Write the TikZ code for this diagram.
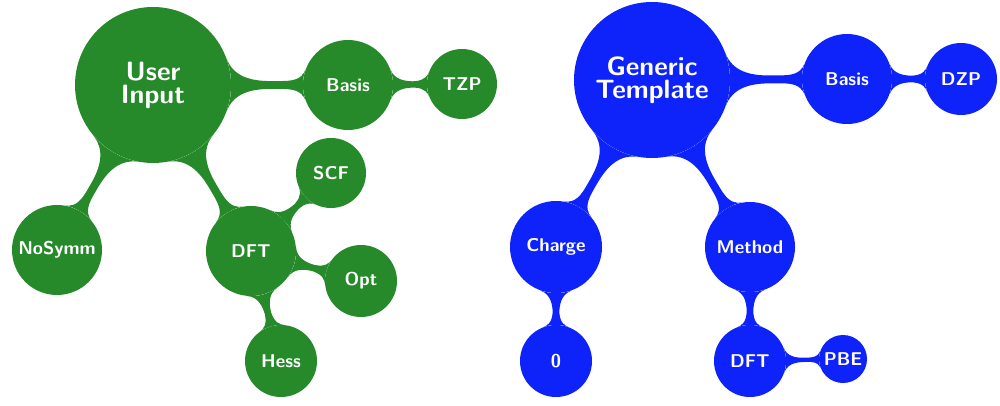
\documentclass[tikz,border=0pt]{standalone}
\usetikzlibrary{mindmap}
\definecolor{mgreen}{RGB}{38,138,42}
\definecolor{mblue}{RGB}{14,34,250}
\tikzset{
  bubble/.style={circle, fill=#1, text=white, inner sep=0pt, align=center,
    font=\sffamily\bfseries\fontsize{18.5}{20}\selectfont},
  big/.style={font=\sffamily\bfseries\fontsize{26.5}{23}\selectfont},
}
\begin{document}
\begin{tikzpicture}[x=1pt,y=-1pt]
\useasboundingbox (0,0) rectangle (1000,406);
% left
\node[bubble=mgreen, big, minimum size=156pt] (ui) at (153,85) {User\\Input};
\node[bubble=mgreen, minimum size=90pt] (b1) at (348,85) {Basis};
\node[bubble=mgreen, minimum size=70pt] (tzp) at (462,84) {TZP};
\node[bubble=mgreen, minimum size=90pt] (ns) at (57,250) {NoSymm};
\node[bubble=mgreen, minimum size=90pt] (dft1) at (251,251) {DFT};
\node[bubble=mgreen, minimum size=70pt] (scf) at (331,173) {SCF};
\node[bubble=mgreen, minimum size=72pt] (opt) at (361,281) {Opt};
\node[bubble=mgreen, minimum size=72pt] (hess) at (281,361) {Hess};
% right
\node[bubble=mblue, big, minimum size=156pt] (gt) at (652,80) {Generic\\Template};
\node[bubble=mblue, minimum size=90pt] (b2) at (847,79) {Basis};
\node[bubble=mblue, minimum size=72pt] (dzp) at (961,79) {DZP};
\node[bubble=mblue, minimum size=92pt] (ch) at (556,247) {Charge};
\node[bubble=mblue, minimum size=72pt] (zero) at (556,361) {0};
\node[bubble=mblue, minimum size=90pt] (me) at (750,247) {Method};
\node[bubble=mblue, minimum size=72pt] (dft2) at (750,361) {DFT};
\node[bubble=mblue, minimum size=48pt] (pbe) at (843,359) {PBE};
% connections
\begin{scope}[line width=9pt]
\path (ui) to[circle connection bar switch color=from (mgreen) to (mgreen)] (b1);
\path (b1) to[circle connection bar switch color=from (mgreen) to (mgreen)] (tzp);
\path (ui) to[circle connection bar switch color=from (mgreen) to (mgreen)] (ns);
\path (ui) to[circle connection bar switch color=from (mgreen) to (mgreen)] (dft1);
\path (dft1) to[circle connection bar switch color=from (mgreen) to (mgreen)] (scf);
\path (dft1) to[circle connection bar switch color=from (mgreen) to (mgreen)] (opt);
\path (dft1) to[circle connection bar switch color=from (mgreen) to (mgreen)] (hess);
\path (gt) to[circle connection bar switch color=from (mblue) to (mblue)] (b2);
\path (b2) to[circle connection bar switch color=from (mblue) to (mblue)] (dzp);
\path (gt) to[circle connection bar switch color=from (mblue) to (mblue)] (ch);
\path (gt) to[circle connection bar switch color=from (mblue) to (mblue)] (me);
\path (ch) to[circle connection bar switch color=from (mblue) to (mblue)] (zero);
\path (me) to[circle connection bar switch color=from (mblue) to (mblue)] (dft2);
\path (dft2) to[circle connection bar switch color=from (mblue) to (mblue)] (pbe);
\end{scope}
\end{tikzpicture}
\end{document}
